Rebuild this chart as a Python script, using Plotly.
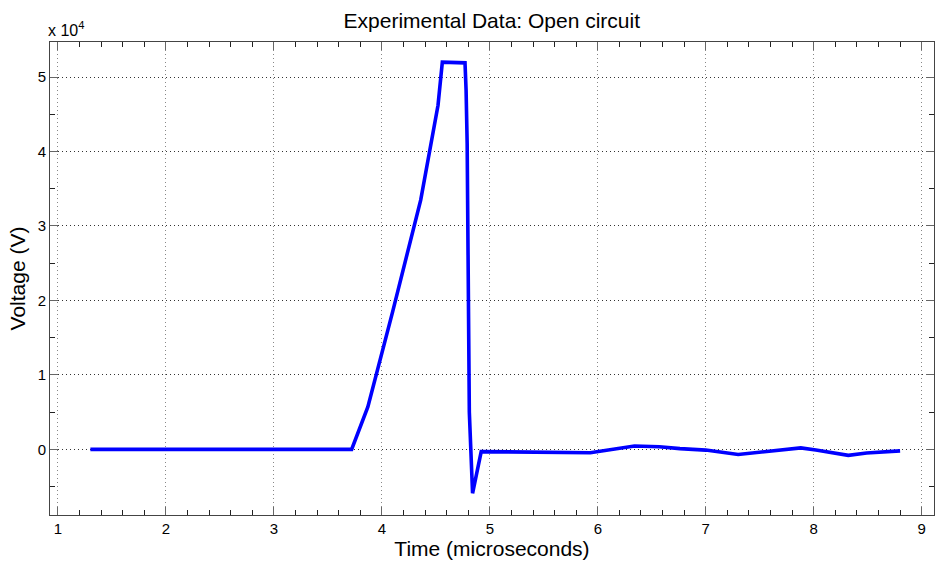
import plotly.graph_objects as go

time_us = [1.3, 3.72, 3.87, 4.10, 4.36, 4.52, 4.56, 4.77, 4.78, 4.79, 4.81, 4.83, 4.84,
           4.92, 5.50, 5.93, 6.34, 6.57, 6.76, 7.00, 7.30, 7.59, 7.88, 8.02, 8.32, 8.49, 8.80]
voltage = [0, 0, 5700, 18500, 33500, 46200, 52000, 51900, 48200, 41000, 5000, -2300, -5900,
           -300, -400, -450, 450, 350, 100, -100, -700, -300, 200, -100, -800, -500, -200]

x_ticks = [1, 2, 3, 4, 5, 6, 7, 8, 9]
y_ticks = [0, 10000, 20000, 30000, 40000, 50000]
y_tick_text = ["0", "1", "2", "3", "4", "5"]

FONT = "Liberation Sans, Arial, sans-serif"

fig = go.Figure()
fig.add_trace(go.Scatter(x=time_us, y=voltage, mode="lines",
                         line=dict(color="#0000ff", width=3.6), showlegend=False))

axis_common = dict(
    showline=True, linecolor="#444", linewidth=1, mirror="ticks",
    ticks="inside", ticklen=8, tickwidth=1, tickcolor="#666",
    showgrid=True, griddash="1px,3px", gridwidth=1, zeroline=False,
    tickfont=dict(family=FONT, size=15, color="#000"),
)

fig.update_layout(
    width=935, height=565,
    margin=dict(l=50, r=1, t=42, b=50),
    paper_bgcolor="white", plot_bgcolor="white",
    title=dict(text="Experimental Data: Open circuit", x=0.526, xanchor="center",
               y=0.963, yanchor="middle",
               font=dict(family=FONT, size=21, color="#000")),
    xaxis=dict(range=[0.926, 9.114], tickvals=x_ticks, gridcolor="#888",
               title=dict(text="Time (microseconds)", standoff=3,
                          font=dict(family=FONT, size=21, color="#000")),
               minor=dict(dtick=0.2, tick0=1, ticks="inside", ticklen=5,
                          tickcolor="#222", showgrid=False),
               **axis_common),
    yaxis=dict(range=[-8816, 54700], tickvals=y_ticks, ticktext=y_tick_text,
               gridcolor="#333",
               title=dict(text="Voltage (V)", standoff=6,
                          font=dict(family=FONT, size=21, color="#000")),
               minor=dict(dtick=5000, tick0=0, ticks="inside", ticklen=5,
                          tickcolor="#222", showgrid=False),
               **axis_common),
    annotations=[dict(text="x 10<sup>4</sup>", xref="paper", yref="paper",
                      x=0.0, y=1.0, xshift=-4, yshift=1, xanchor="left", yanchor="bottom",
                      showarrow=False, font=dict(family=FONT, size=16, color="#000"))],
)

fig.write_html("out.html")
